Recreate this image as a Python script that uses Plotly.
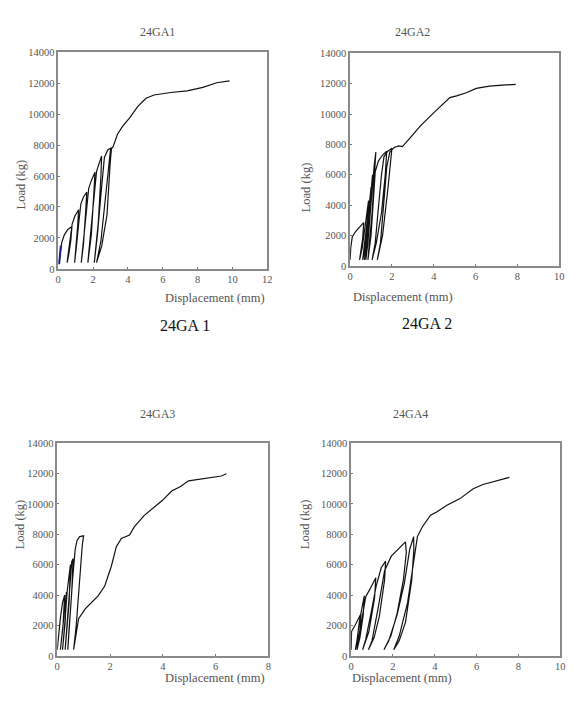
import plotly.graph_objects as go

# ---------------- data ----------------
# 24GA1
ga1_x = [0.05, 0.1, 0.2, 0.35, 0.55, 0.79,
         0.72, 0.6, 0.51,
         0.6, 0.72, 0.8, 0.95, 1.17,
         1.12, 1.02, 0.94,
         1.05, 1.18, 1.3, 1.45, 1.64,
         1.58, 1.45, 1.32,
         1.45, 1.6, 1.75, 1.9, 2.11,
         2.05, 1.9, 1.7,
         1.85, 2.0, 2.2, 2.35, 2.49,
         2.45, 2.3, 2.07,
         2.25, 2.45, 2.65, 2.85, 3.06,
         2.98, 2.8, 2.5, 2.2,
         2.45, 2.7, 2.9, 3.0, 3.15,
         3.4, 3.7, 4.1, 4.57, 5.04, 5.5, 6.45, 7.4, 8.3, 9.1, 9.83]
ga1_y = [400, 1000, 1700, 2200, 2550, 2740,
         1800, 900, 400,
         1200, 2200, 2900, 3400, 3820,
         2800, 1300, 400,
         1500, 3000, 4200, 4650, 4960,
         3800, 1600, 400,
         1800, 3800, 5200, 5700, 6240,
         5000, 2200, 400,
         2000, 4000, 6300, 6900, 7300,
         6000, 3000, 400,
         2200, 4800, 7200, 7700, 7830,
         6800, 3500, 1500, 400,
         1800, 4500, 7000, 7700, 7900,
         8700, 9230, 9760, 10500, 11030, 11240, 11400, 11500, 11730, 12030, 12150]
ga1_blue_x = [0.05, 0.08, 0.15]
ga1_blue_y = [300, 800, 1500]

# 24GA2
ga2_x = [0.0, 0.03, 0.1, 0.25, 0.45, 0.65,
         0.6, 0.52, 0.45,
         0.58, 0.7, 0.8, 0.88,
         0.82, 0.7, 0.6,
         0.7, 0.82, 0.92, 1.0,
         0.95, 0.82, 0.68,
         0.78, 0.9, 1.0, 1.07,
         1.0, 0.88, 0.75,
         0.85, 0.98, 1.08, 1.15, 1.23,
         1.18, 1.05, 0.92, 0.85,
         1.0, 1.12, 1.2, 1.35, 1.55, 1.75,
         1.68, 1.5, 1.25, 1.05,
         1.2, 1.35, 1.5, 1.62, 1.8, 2.0,
         1.95, 1.8, 1.55, 1.3,
         1.45, 1.6, 1.75, 1.9, 2.1, 2.33, 2.5,
         2.88, 3.35, 3.98, 4.46, 4.77, 5.09, 5.56, 6.03, 6.66, 7.29, 7.92]
ga2_y = [400, 1200, 1900, 2250, 2550, 2850,
         1800, 900, 400,
         1200, 2500, 3800, 4300,
         3000, 1400, 400,
         1000, 2800, 4500, 5200,
         3800, 1800, 400,
         1200, 3300, 5200, 6000,
         4500, 2000, 400,
         1500, 3800, 5800, 6600, 7500,
         6200, 3500, 1500, 400,
         2000, 4500, 6200, 6900, 7300, 7550,
         6000, 3500, 1500, 400,
         1500, 3800, 6000, 7200, 7550, 7750,
         7000, 5000, 2000, 400,
         1500, 4000, 6500, 7500, 7800, 7900, 7860,
         8440, 9200, 10060, 10710, 11080, 11190, 11400, 11690, 11840, 11900, 11950]

# 24GA3
ga3_x = [0.0, 0.05, 0.12, 0.2, 0.28,
         0.22, 0.12,
         0.2, 0.3, 0.35,
         0.3, 0.2,
         0.28, 0.38, 0.45, 0.5,
         0.45, 0.35, 0.3,
         0.38, 0.48, 0.55, 0.6,
         0.55, 0.45, 0.4,
         0.48, 0.58, 0.68, 0.75, 0.85, 1.0,
         0.95, 0.85, 0.72, 0.62,
         0.7, 0.81, 1.06, 1.55, 1.8, 2.05, 2.24, 2.43, 2.74, 2.92, 3.3, 3.61,
         3.98, 4.35, 4.66, 4.98, 5.41, 5.91, 6.22, 6.41]
ga3_y = [400, 1500, 2500, 3500, 4000,
         2000, 400,
         1800, 3500, 4200,
         2200, 400,
         2000, 4300, 5600, 6000,
         3500, 1200, 400,
         2000, 4500, 6200, 6400,
         4200, 1800, 400,
         2200, 5000, 7000, 7600, 7850, 7900,
         7300, 5000, 2000, 400,
         1400, 2440, 3090, 3950, 4600, 5900, 7190, 7730, 7950, 8490, 9250, 9680,
         10220, 10870, 11130, 11520, 11630, 11730, 11840, 11990]

# 24GA4
ga4_x = [0.0, 0.02, 0.19, 0.35, 0.47,
         0.42, 0.3, 0.2,
         0.28, 0.4, 0.5, 0.63,
         0.58, 0.42, 0.28,
         0.38, 0.55, 0.7, 0.9, 1.18,
         1.12, 0.85, 0.55,
         0.7, 0.95, 1.2, 1.44, 1.65,
         1.6, 1.35, 1.1, 0.83,
         1.0, 1.3, 1.6, 1.92, 2.23, 2.54, 2.6,
         2.64, 2.5, 2.2, 1.9, 1.57,
         1.8, 2.2, 2.55, 2.8, 2.99,
         3.0, 2.9, 2.6, 2.3, 2.04,
         2.3, 2.7, 2.95, 3.1, 3.17,
         3.41, 3.8, 4.11, 4.58, 5.21, 5.84, 6.31, 6.94, 7.57]
ga4_y = [400, 1600, 2010, 2400, 2770,
         1700, 800, 400,
         1000, 2300, 3000, 3950,
         2700, 1200, 400,
         1100, 2700, 3900, 4390, 5140,
         3800, 1600, 400,
         1100, 2800, 4600, 5800, 6230,
         5000, 2600, 1200, 400,
         1000, 3200, 5600, 6560, 6990, 7420, 7500,
         6800, 5000, 2800, 1300, 400,
         1000, 2700, 4800, 7000, 7850,
         7000, 5000, 2200, 1000, 400,
         1300, 3500, 5800, 7500, 7850,
         8500, 9260, 9480, 9910, 10350, 11000, 11280, 11540, 11750]

panel_titles = ["24GA1", "24GA2", "24GA3", "24GA4"]
captions = ["24GA 1", "24GA 2"]
x_max = [12, 10, 8, 10]
y_ticks = [0, 2000, 4000, 6000, 8000, 10000, 12000, 14000]
y_tick_labels = [str(v) for v in y_ticks]

# ---------------- figure ----------------
W, H = 579, 716
FONT = "Liberation Serif"
# plot areas in pixels: left, right, top, bottom
boxes = [(56, 268, 48, 268), (352, 564, 49, 265), (55, 269, 445, 661), (353, 565, 445, 661)]

fig = go.Figure()
series = [(ga1_x, ga1_y), (ga2_x, ga2_y), (ga3_x, ga3_y), (ga4_x, ga4_y)]
for i, (xs, ys) in enumerate(series):
    ax = "" if i == 0 else str(i + 1)
    fig.add_trace(go.Scatter(x=xs, y=ys, mode="lines", line=dict(color="#111", width=1.2),
                             xaxis="x" + ax, yaxis="y" + ax, showlegend=False))
fig.add_trace(go.Scatter(x=ga1_blue_x, y=ga1_blue_y, mode="lines",
                         line=dict(color="#1a1a8c", width=2), xaxis="x", yaxis="y", showlegend=False))

annotations = []
for i, (l, r, t, b) in enumerate(boxes):
    ax = "" if i == 0 else str(i + 1)
    xd = [l / W, r / W]
    yd = [1 - b / H, 1 - t / H]
    common = dict(showline=True, mirror=True, linecolor="#8a8a8a", linewidth=1.5,
                  showgrid=False, zeroline=False, ticks="inside", ticklen=2,
                  tickcolor="#777", tickfont=dict(family=FONT, size=10.5, color="#555"))
    fig.update_layout(**{
        "xaxis" + ax: dict(domain=xd, range=[0, x_max[i]], dtick=2, tick0=0,
                           anchor="y" + ax, **common),
        "yaxis" + ax: dict(domain=yd, range=[0, 14000], tickvals=y_ticks,
                           ticktext=y_tick_labels, anchor="x" + ax, **common),
    })

title_pos = [(137, 18), (435, 18), (137, 415), (433, 415)]
for (px, py), txt in zip(title_pos, panel_titles):
    annotations.append(dict(x=px / W, y=1 - py / H, xref="paper", yref="paper", text=txt,
                            showarrow=False, font=dict(family=FONT, size=12, color="#555")))
xt_pos = [(162, 298), (458, 297), (162, 693), (457, 693)]
for px, py in xt_pos:
    annotations.append(dict(x=px / W, y=1 - py / H, xref="paper", yref="paper",
                            text="Displacement (mm)", showarrow=False,
                            font=dict(family=FONT, size=12.5, color="#555")))
yt_pos = [(9, 155), (307, 158), (9, 555), (307, 555)]
for px, py in yt_pos:
    annotations.append(dict(x=px / W, y=1 - py / H, xref="paper", yref="paper",
                            text="Load (kg)", textangle=-90, showarrow=False,
                            font=dict(family=FONT, size=12.5, color="#555")))
cap_pos = [(157, 325), (457, 323)]
for (px, py), txt in zip(cap_pos, captions):
    annotations.append(dict(x=px / W, y=1 - py / H, xref="paper", yref="paper", text=txt,
                            showarrow=False, font=dict(family=FONT, size=16, color="#111")))

fig.update_layout(width=W, height=H, margin=dict(l=0, r=0, t=0, b=0),
                  paper_bgcolor="white", plot_bgcolor="white",
                  annotations=annotations, showlegend=False)

fig.write_html("out.html", config={"displayModeBar": False})
